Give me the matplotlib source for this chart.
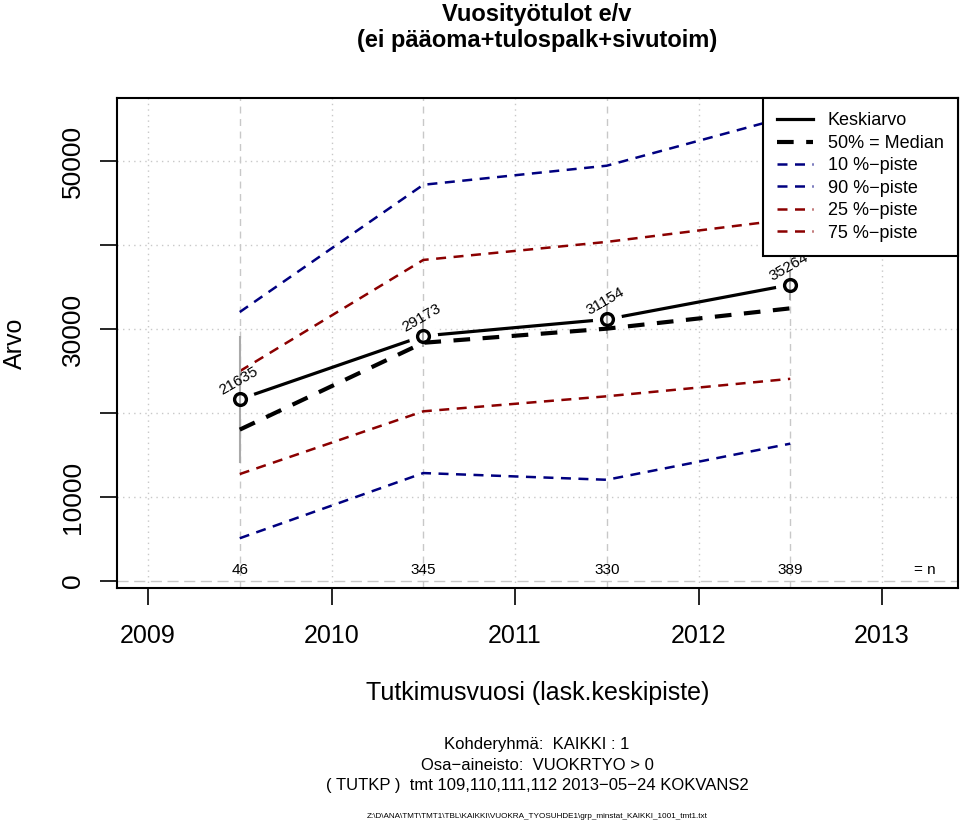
import numpy as np
import matplotlib
matplotlib.use("Agg")
import matplotlib.pyplot as plt

plt.rcParams['font.family'] = ['Liberation Sans', 'DejaVu Sans']

# data
years = [2009.5, 2010.5, 2011.5, 2012.5]
mean = [21635, 29173, 31154, 35264]
median = [18020, 28360, 30040, 32460]
p10 = [5090, 12850, 12050, 16350]
p90 = [32020, 47170, 49440, 55370]
p25 = [12730, 20200, 21990, 24070]
p75 = [24980, 38220, 40370, 43080]
ci_low = [14050, 27860, 29400, 33500]
ci_high = [29170, 31430, 32900, 37000]
n_obs = [46, 345, 330, 389]
year_ticks = [2009, 2010, 2011, 2012, 2013]
y_ticks = [0, 10000, 20000, 30000, 40000, 50000]
y_labels = ['0', '10000', '', '30000', '', '50000']

navy = '#000080'
darkred = '#8B0000'
gridc = '#c8c8c8'

fig = plt.figure(figsize=(9.6, 8.22), dpi=100)
ax = fig.add_axes([117 / 960, 1 - 588 / 822, 841 / 960, 490 / 822])
ax.set_xlim(2008.831, 2013.414)
ax.set_ylim(-833, 57500)

# grid: dotted at ticks, dashed at the data years
for yv in y_ticks[1:]:
    ax.axhline(yv, color=gridc, lw=1.0, ls=(0, (1, 3)), zorder=0.5)
ax.axhline(0, color=gridc, lw=1.0, ls=(0, (8, 4)), zorder=0.5)
for xv in year_ticks:
    ax.axvline(xv, color=gridc, lw=1.0, ls=(0, (1, 3)), zorder=0.5)
for xv in years:
    ax.axvline(xv, color=gridc, lw=1.0, ls=(0, (5, 4)), zorder=0.5)

# percentile lines
ax.plot(years, p90, color=navy, lw=1.8, ls=(0, (4, 3)), zorder=2, label='90 %\u2212piste')
ax.plot(years, p10, color=navy, lw=1.8, ls=(0, (4, 3)), zorder=2, label='10 %\u2212piste')
ax.plot(years, p75, color=darkred, lw=1.8, ls=(0, (4, 3)), zorder=2, label='75 %\u2212piste')
ax.plot(years, p25, color=darkred, lw=1.8, ls=(0, (4, 3)), zorder=2, label='25 %\u2212piste')

# mean with gaps around the points (R type="b")
ax.plot(years, mean, color='black', lw=2.3, zorder=3, label='Keskiarvo')
ax.plot(years, mean, ls='none', marker='o', ms=20, mfc='white', mec='white', zorder=3.2)
ax.vlines(years, ci_low, ci_high, color='#aaaaaa', lw=1.5, zorder=3.4)
ax.plot(years, median, color='black', lw=3.0, ls=(0, (4, 3)), zorder=3.6, label='50% = Median')
ax.plot(years, mean, ls='none', marker='o', ms=8.5, mfc='none', mec='black', mew=2.4, zorder=4)

for x, v in zip(years, mean):
    ax.annotate(str(v), (x, v), xytext=(-1, 13), textcoords='offset points',
                rotation=30, ha='center', va='center', fontsize=11, zorder=5)

ntrans = ax.get_xaxis_transform()
for x, n in zip(years, n_obs):
    ax.text(x, 0.037, str(n), transform=ntrans, ha='center', va='center', fontsize=11)
ax.text(0.96, 0.037, '= n', transform=ax.transAxes, ha='center', va='center', fontsize=11)

ax.set_xticks(year_ticks)
ax.set_xticklabels([str(y) for y in year_ticks], fontsize=18)
ax.set_yticks(y_ticks)
ax.set_yticklabels(y_labels, fontsize=19, rotation=90, va='center')
ax.tick_params(axis='x', length=12, width=1.2, pad=14)
ax.tick_params(axis='y', length=12, width=1.2, pad=11)
for s in ax.spines.values():
    s.set_linewidth(1.5)

ax.set_xlabel('Tutkimusvuosi (lask.keskipiste)', fontsize=18, labelpad=24)
fig.text(15 / 960, 1 - 343 / 822, 'Arvo', rotation=90, fontsize=18, ha='center', va='center')

fig.text(537 / 960, 1 - 14 / 822, 'Vuosityötulot e/v', fontsize=17, fontweight='bold',
         ha='center', va='center')
fig.text(537 / 960, 1 - 41 / 822, '(ei pääoma+tulospalk+sivutoim)', fontsize=17,
         fontweight='bold', ha='center', va='center')

handles, labels = ax.get_legend_handles_labels()
order = ['Keskiarvo', '50% = Median', '10 %\u2212piste', '90 %\u2212piste',
         '25 %\u2212piste', '75 %\u2212piste']
hmap = dict(zip(labels, handles))
leg = ax.legend([hmap[k] for k in order], order, loc='upper right', fontsize=13,
                frameon=True, fancybox=False, framealpha=1, edgecolor='black',
                borderaxespad=0, handlelength=2.0, labelspacing=0.3,
                borderpad=0.8, handletextpad=0.8)
leg.get_frame().set_linewidth(1.5)
leg.set_zorder(6)

fig.text(537 / 960, 1 - 744 / 822, 'Kohderyhmä:  KAIKKI : 1', fontsize=12, ha='center', va='center')
fig.text(537 / 960, 1 - 765 / 822, 'Osa\u2212aineisto:  VUOKRTYO > 0', fontsize=12, ha='center', va='center')
fig.text(537 / 960, 1 - 785 / 822, '( TUTKP )  tmt 109,110,111,112 2013\u221205\u221224 KOKVANS2',
         fontsize=12, ha='center', va='center')
fig.text(537 / 960, 1 - 816 / 822,
         'Z:\\D\\ANA\\TMT\\TMT1\\TBL\\KAIKKI\\VUOKRA_TYOSUHDE1\\grp_minstat_KAIKKI_1001_tmt1.txt',
         fontsize=5.9, ha='center', va='center')

fig.savefig('out.png', dpi=100)
